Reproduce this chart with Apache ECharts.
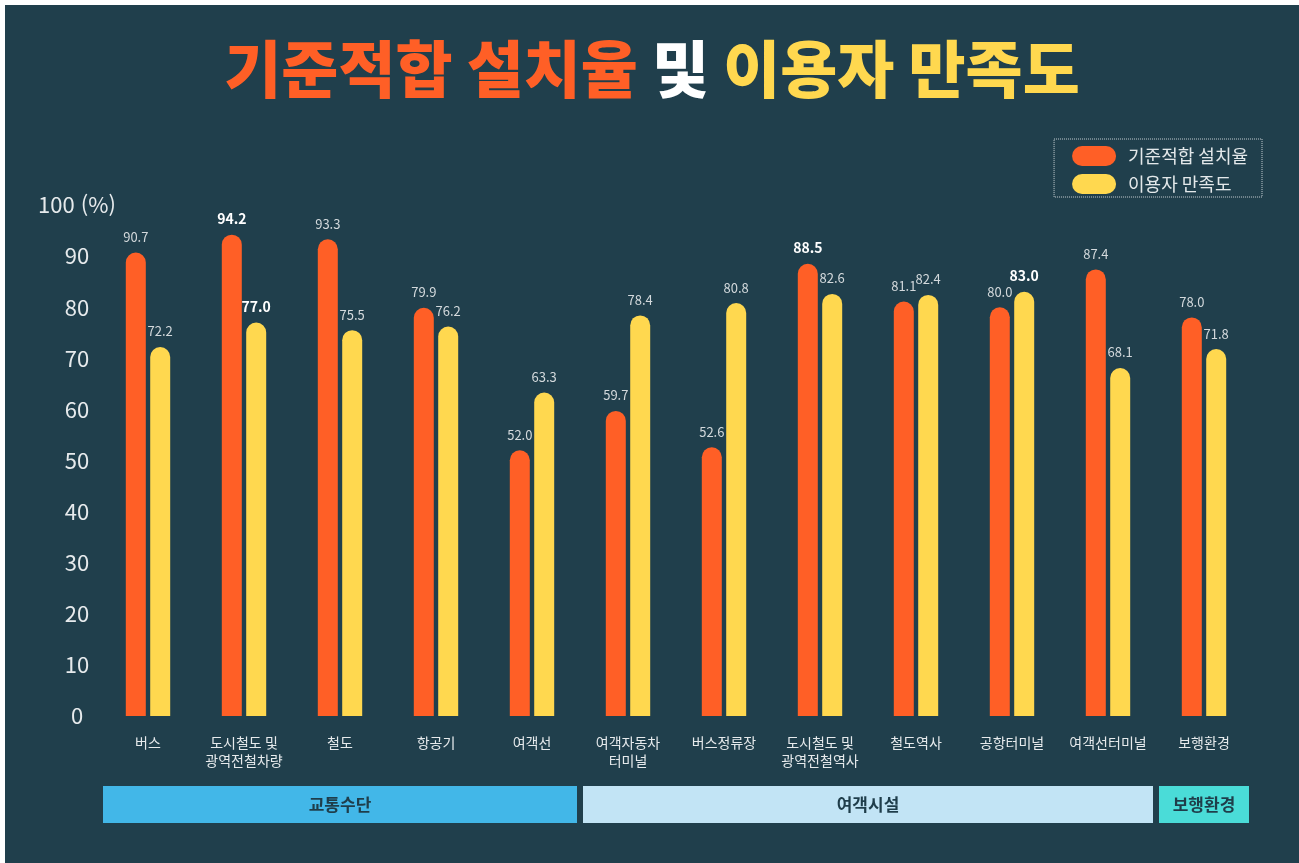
<!DOCTYPE html>
<html lang="ko">
<head>
<meta charset="UTF-8">
<title>기준적합 설치율 및 이용자 만족도</title>
<script src="https://cdn.jsdelivr.net/npm/echarts@6/dist/echarts.min.js"></script>
<style>
  html, body { margin: 0; padding: 0; background: #ffffff; }
  #chart {
    position: absolute;
    left: 5px;
    top: 5px;
    width: 1294px;
    height: 858px;
    background: #203f4c;
  }
</style>
</head>
<body>
<div id="chart"></div>
<script>
var categories = [
  '버스', '도시철도 및\n광역전철차량', '철도', '항공기', '여객선',
  '여객자동차\n터미널', '버스정류장', '도시철도 및\n광역전철역사', '철도역사',
  '공항터미널', '여객선터미널', '보행환경'
];
var installRate = [90.7, 94.2, 93.3, 79.9, 52.0, 59.7, 52.6, 88.5, 81.1, 80.0, 87.4, 78.0];
var satisfaction = [72.2, 77.0, 75.5, 76.2, 63.3, 78.4, 80.8, 82.6, 82.4, 83.0, 68.1, 71.8];
// group name, first category index, last category index
var groups = [
  ['교통수단', 0, 4],
  ['여객시설', 5, 10],
  ['보행환경', 11, 11]
];
// indexes whose value labels are emphasised
var installTop = [1, 7];
var satisfactionTop = [1, 9];

var FONT = '"Noto Sans CJK KR", "Noto Sans", sans-serif';
var groupColors = ['#42b7e8', '#c2e4f5', '#4adcd8'];

function labelFormatter(tops) {
  return function (p) {
    var txt = p.value.toFixed(1);
    return tops.indexOf(p.dataIndex) >= 0 ? '{b|' + txt + '}' : txt;
  };
}

var valueLabel = function (tops) {
  return {
    show: true,
    position: 'top',
    distance: 9,
    color: '#d3d9dc',
    fontSize: 13,
    fontFamily: FONT,
    formatter: labelFormatter(tops),
    rich: {
      b: { color: '#ffffff', fontSize: 14, fontWeight: 'bold', fontFamily: FONT }
    }
  };
};

var chart = echarts.init(document.getElementById('chart'));

var option = {
  backgroundColor: '#203f4c',
  animation: false,
  title: {
    left: 'center',
    top: 28,
    text: '{o|기준적합 설치율 }{w|및 }{y|이용자 만족도}',
    textStyle: {
      rich: {
        o: { color: '#ff5f26', fontSize: 62, fontWeight: 900, fontFamily: FONT },
        w: { color: '#ffffff', fontSize: 62, fontWeight: 900, fontFamily: FONT },
        y: { color: '#ffd84f', fontSize: 62, fontWeight: 900, fontFamily: FONT }
      }
    }
  },
  legend: {
    orient: 'vertical',
    right: 37,
    top: 134,
    data: ['기준적합 설치율', '이용자 만족도'],
    icon: 'path://M10,0 H34 A10,10 0 0 1 34,20 H10 A10,10 0 0 1 10,0 Z',
    itemWidth: 44,
    itemHeight: 20,
    itemGap: 8,
    padding: [7, 14, 3, 18],
    borderColor: '#c9d1d5',
    borderWidth: 1,
    borderType: 'dotted',
    textStyle: {
      color: '#e3e8ea',
      fontSize: 18,
      fontFamily: FONT,
      padding: [0, 0, 0, 7]
    }
  },
  grid: {
    left: 95,
    right: 47,
    top: 200,
    bottom: 147
  },
  xAxis: {
    type: 'category',
    data: categories,
    axisLine: { show: false },
    axisTick: { show: false },
    axisLabel: {
      interval: 0,
      margin: 18,
      color: '#e6eaec',
      fontSize: 14,
      lineHeight: 18,
      fontFamily: FONT
    }
  },
  yAxis: {
    type: 'value',
    min: 0,
    max: 100,
    interval: 10,
    splitLine: { show: false },
    axisLine: { show: false },
    axisTick: { show: false },
    axisLabel: {
      align: 'center',
      margin: 23,
      color: '#e6eaec',
      fontSize: 22,
      fontFamily: FONT,
      formatter: function (v) { return v === 100 ? '100 (%)' : String(v); }
    }
  },
  series: [
    {
      name: '기준적합 설치율',
      type: 'bar',
      data: installRate,
      barWidth: 20,
      barGap: '22%',
      itemStyle: { color: '#ff5f26', borderRadius: [10, 10, 0, 0] },
      label: valueLabel(installTop)
    },
    {
      name: '이용자 만족도',
      type: 'bar',
      data: satisfaction,
      barWidth: 20,
      itemStyle: { color: '#ffd84f', borderRadius: [10, 10, 0, 0] },
      label: valueLabel(satisfactionTop)
    },
    {
      name: 'groups',
      type: 'custom',
      silent: true,
      clip: false,
      encode: { x: 1, y: -1 },
      data: groups.map(function (g, i) { return [g[1], g[2], g[0], i]; }),
      renderItem: function (params, api) {
        var g = groups[params.dataIndex];
        var p0 = api.coord([g[1], 0]);
        var p1 = api.coord([g[2], 0]);
        var bw = api.size([1, 0])[0];
        var x0 = p0[0] - bw / 2 + 3;
        var x1 = p1[0] + bw / 2 - 3;
        var y0 = p0[1] + 70;
        var h = 37;
        return {
          type: 'group',
          children: [
            {
              type: 'rect',
              shape: { x: x0, y: y0, width: x1 - x0, height: h },
              style: { fill: groupColors[params.dataIndex] }
            },
            {
              type: 'text',
              style: {
                text: g[0],
                x: (x0 + x1) / 2,
                y: y0 + h / 2,
                align: 'center',
                verticalAlign: 'middle',
                fill: '#1f3d4a',
                font: 'bold 17px ' + FONT
              }
            }
          ]
        };
      }
    }
  ]
};

chart.setOption(option);
</script>
</body>
</html>
